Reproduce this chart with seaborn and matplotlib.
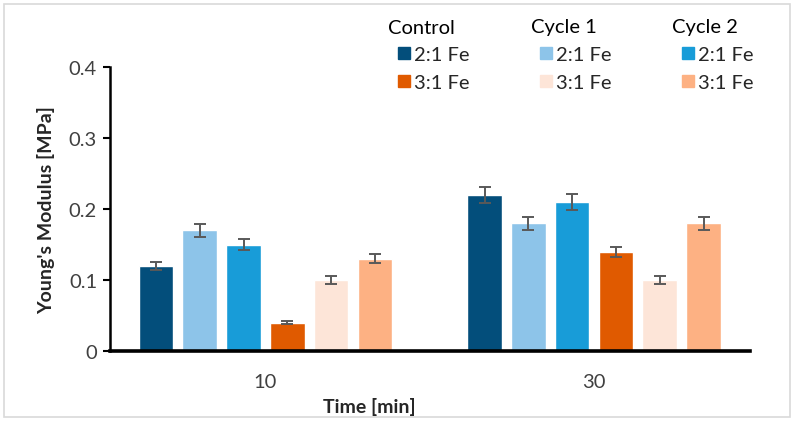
import matplotlib
matplotlib.use("Agg")
import matplotlib.pyplot as plt
import seaborn as sns
import pandas as pd
import numpy as np
from matplotlib.lines import Line2D
from matplotlib.patches import Rectangle

# data
times = ['10', '30']
series = ['Control 2:1 Fe', 'Cycle 1 2:1 Fe', 'Cycle 2 2:1 Fe',
          'Control 3:1 Fe', 'Cycle 1 3:1 Fe', 'Cycle 2 3:1 Fe']
modulus_10 = [0.12, 0.17, 0.15, 0.04, 0.10, 0.13]
modulus_30 = [0.22, 0.18, 0.21, 0.14, 0.10, 0.18]
err_10 = [0.006, 0.009, 0.008, 0.002, 0.005, 0.0065]
err_30 = [0.011, 0.009, 0.011, 0.007, 0.005, 0.009]
colors = ['#034E7B', '#8DC4E9', '#189CD8', '#E05A00', '#FDE5D8', '#FDB183']

rows = []
for t, vals, errs in [(times[0], modulus_10, err_10), (times[1], modulus_30, err_30)]:
    for s, v, e in zip(series, vals, errs):
        rows.append({'Time': t, 'Series': s, 'Modulus': v, 'Err': e})
df = pd.DataFrame(rows)

sns.set_style('white')
plt.rcParams['font.family'] = ['Lato', 'DejaVu Sans']
fs = 14.5

fig = plt.figure(figsize=(7.95, 4.27), dpi=100)
ax = fig.add_axes([109.5/795, 1-352/427, (750-109.5)/795, (352-68)/427])

sns.barplot(data=df, x='Time', y='Modulus', hue='Series', hue_order=series,
            order=times, palette=colors, width=0.8, gap=0.21, errorbar=None,
            saturation=1, legend=False, ax=ax)

# error bars on top of each bar
for container, s in zip(ax.containers, series):
    sub = df[df['Series'] == s].set_index('Time').loc[times]
    xs = [p.get_x() + p.get_width()/2 for p in container]
    ax.errorbar(xs, sub['Modulus'], yerr=sub['Err'], fmt='none',
                ecolor='#595959', elinewidth=1.4, capsize=4, capthick=1.4)

ax.set_ylim(0, 0.4)
ax.set_yticks([0, 0.1, 0.2, 0.3, 0.4])
ax.set_yticklabels(['0', '0.1', '0.2', '0.3', '0.4'])
ax.tick_params(axis='y', left=True, length=5, width=1.5, color='black',
               labelsize=fs, labelcolor='#404040', pad=4)
ax.tick_params(axis='x', bottom=False, labelsize=fs, labelcolor='#404040', pad=12)
for side in ['top', 'right']:
    ax.spines[side].set_visible(False)
ax.spines['left'].set_linewidth(1.8)
ax.spines['left'].set_color('black')
ax.spines['bottom'].set_linewidth(2.6)
ax.spines['bottom'].set_color('black')

ax.set_xlabel('')
ax.set_ylabel("Young's Modulus [MPa]", fontsize=fs - 0.5, fontweight='bold', labelpad=10)
fig.text(369/795, 1-407/427, 'Time [min]', fontsize=fs - 0.5, fontweight='bold',
         ha='center', va='center')

# legend: three columns with headers
col_titles = ['Control', 'Cycle 1', 'Cycle 2']
col_x = [388, 531, 672]
for title, x in zip(col_titles, col_x):
    fig.text(x/795, 1-28/427, title, fontsize=fs, ha='left', va='center', color='black')

order = [0, 3, 1, 4, 2, 5]
handles = [Line2D([], [], marker='s', linestyle='none', markersize=8,
                  markerfacecolor=colors[i], markeredgecolor=colors[i]) for i in order]
labels = [series[i].split(' ')[-2] + ' Fe' for i in order]
fig.legend(handles, labels, ncol=3, loc='upper left',
           bbox_to_anchor=(398/795, 1-47/427), frameon=False, fontsize=fs,
           handlelength=0.55, handletextpad=0.25, columnspacing=3.5,
           labelspacing=0.55, borderaxespad=0, borderpad=0)

fig.patches.append(Rectangle((4/795, 9/427), 786/795, 413/427, transform=fig.transFigure,
                             fill=False, edgecolor='#D9D9D9', linewidth=1.2))

fig.savefig('out.png', dpi=100)
